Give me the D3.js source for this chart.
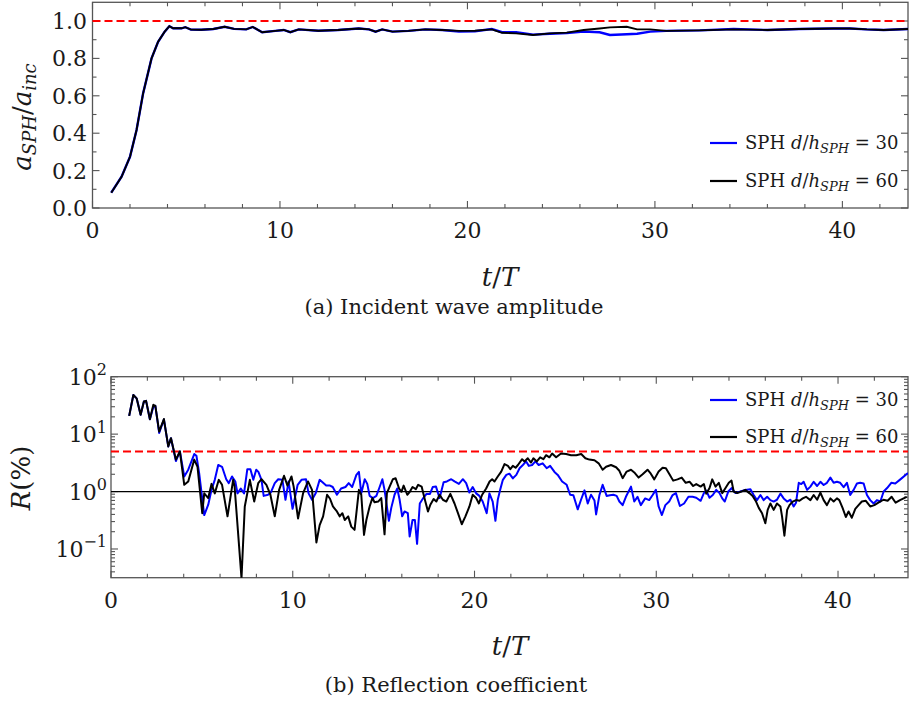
<!DOCTYPE html>
<html><head><meta charset="utf-8">
<script src="https://cdn.jsdelivr.net/npm/d3@7"></script>
<style>
body{margin:0;background:#fff}
</style>
</head><body>
<svg id="c" width="909" height="705"></svg>
<script>
// ---------- Panel (a): incident wave amplitude ----------
const aT = [1.0,1.55,2.0,2.35,2.7,3.15,3.5,3.85,4.1,4.3,4.75,4.95,5.25,5.8,6.45,7.05,7.55,8.2,8.55,9.05,9.75,10.2,10.55,11.0,12.05,13.1,14.2,14.75,15.1,15.45,16.0,16.85,17.75,18.65,19.55,20.4,21.3,21.85,22.6,23.5,24.4,25.3,26.2,27.05,27.6,28.5,29.05,29.75,30.6,32.4,34.2,36.0,37.7,39.5,40.4,41.3,42.2,43.5];
const aBlack = [0.082,0.167,0.274,0.417,0.613,0.80,0.889,0.943,0.972,0.961,0.961,0.967,0.954,0.953,0.957,0.969,0.958,0.955,0.968,0.940,0.947,0.952,0.940,0.955,0.948,0.952,0.960,0.955,0.943,0.955,0.943,0.947,0.955,0.952,0.947,0.948,0.955,0.937,0.934,0.925,0.934,0.938,0.952,0.960,0.966,0.969,0.955,0.955,0.947,0.950,0.955,0.952,0.957,0.960,0.960,0.955,0.952,0.957];
const aBlue  = [0.082,0.167,0.274,0.417,0.613,0.80,0.889,0.943,0.972,0.961,0.961,0.967,0.954,0.953,0.957,0.969,0.958,0.955,0.968,0.940,0.947,0.952,0.940,0.955,0.948,0.952,0.960,0.955,0.943,0.955,0.943,0.947,0.955,0.952,0.944,0.945,0.957,0.940,0.940,0.927,0.932,0.936,0.943,0.940,0.925,0.929,0.932,0.943,0.947,0.950,0.957,0.952,0.957,0.960,0.960,0.955,0.952,0.957];
const aYTicks = [0.0,0.2,0.4,0.6,0.8,1.0];
const xTicks = [0,10,20,30,40];
const aRef = 1.0;

// ---------- Panel (b): reflection coefficient (%) ----------
const bBlackT = [1.0,1.23,1.41,1.63,1.81,1.93,2.14,2.33,2.44,2.65,2.91,3.15,3.3,3.57,3.79,4.03,4.25,4.58,4.76,5.02,5.13,5.35,5.53,5.71,5.93,6.11,6.41,6.72,6.8,7.18,7.36,7.64,7.88,8.1,8.28,8.55,8.77,9.01,9.25,9.52,9.71,9.93,10.05,10.29,10.57,10.84,11.06,11.3,11.48,11.67,11.89,12.05,12.21,12.43,12.58,12.73,12.86,13.05,13.22,13.4,13.64,13.77,13.92,14.05,14.23,14.38,14.5,14.7,14.87,15.05,15.18,15.33,15.51,15.66,15.85,15.98,16.1,16.3,16.44,16.59,16.77,16.9,17.09,17.27,17.44,17.57,17.75,17.9,18.08,18.26,18.45,18.67,18.9,19.09,19.3,19.5,19.72,19.9,20.09,20.24,20.42,20.64,20.83,20.97,21.1,21.28,21.47,21.65,21.84,21.97,22.11,22.26,22.39,22.62,22.75,22.93,23.11,23.24,23.43,23.61,23.79,23.94,24.12,24.27,24.49,24.76,25.04,25.31,25.6,25.87,26.1,26.32,26.6,26.83,27.05,27.24,27.51,27.79,27.97,28.15,28.37,28.61,28.79,29.03,29.25,29.52,29.7,29.89,30.13,30.35,30.53,30.75,30.93,31.17,31.4,31.62,31.84,32.03,32.2,32.44,32.62,32.75,32.93,33.08,33.26,33.44,33.63,33.81,33.99,34.14,34.26,34.45,34.68,34.9,35.12,35.3,35.49,35.64,35.82,36.0,36.13,36.28,36.46,36.64,36.83,36.92,37.05,37.2,37.33,37.51,37.69,37.88,38.06,38.24,38.48,38.66,38.85,39.03,39.21,39.39,39.58,39.76,39.94,40.07,40.25,40.43,40.58,40.76,40.95,41.13,41.31,41.53,41.77,42.0,42.22,42.5,42.73,42.95,43.17,43.41,43.78];
const bBlackR = [20.8,48,42,21.7,37,38,18.2,32.4,31,11.1,18.3,6.1,8.5,3.6,5.0,1.31,1.5,3.6,2.7,0.42,0.93,0.77,1.36,0.93,1.6,1.31,0.37,1.6,1.22,0.031,0.55,1.6,0.67,1.4,1.64,1.31,0.88,0.37,1.07,1.88,1.27,1.83,1.22,0.34,0.94,1.5,1.07,0.13,0.26,0.37,0.88,0.75,0.55,0.45,0.37,0.42,0.32,0.37,0.245,0.215,1.07,0.88,0.176,0.32,0.55,0.77,0.65,0.67,0.77,0.18,0.94,1.22,1.64,1.7,1.13,0.99,1.27,0.88,0.99,1.2,1.1,1.31,1.22,0.72,0.45,0.59,0.74,0.67,0.88,0.72,0.67,0.91,0.62,0.42,0.27,0.37,0.55,0.88,0.77,0.62,0.88,1.13,1.5,1.64,1.5,1.83,2.23,3.0,2.8,2.45,2.8,2.6,2.9,3.66,3.35,3.8,3.2,3.8,3.35,3.95,3.66,4.3,3.95,4.6,3.95,4.6,4.5,4.3,4.3,4.5,3.8,3.6,3.5,3.1,2.4,2.7,2.9,2.65,2.3,1.71,2.23,2.4,2.15,1.75,2.0,2.4,2.05,1.63,2.23,2.6,2.55,1.95,1.55,1.63,1.75,1.42,1.48,1.25,1.35,1.22,1.35,0.92,1.15,1.63,1.22,1.42,0.94,1.15,1.42,1.55,1.0,0.94,1.0,1.07,0.94,0.84,0.67,0.52,0.42,0.28,0.48,0.62,0.48,0.62,0.55,0.37,0.17,0.48,0.58,0.67,0.71,0.69,0.76,0.81,0.71,0.87,0.72,0.96,0.71,0.58,0.76,0.67,0.76,0.71,0.52,0.36,0.45,0.35,0.5,0.58,0.67,0.69,0.55,0.58,0.64,0.72,0.69,0.81,0.64,0.71,0.81];

const bBlueT = [1.0,1.23,1.41,1.63,1.81,1.93,2.14,2.33,2.44,2.65,2.91,3.15,3.3,3.57,3.79,4.03,4.25,4.58,4.7,4.85,5.13,5.35,5.53,5.71,5.9,6.11,6.34,6.48,6.66,6.84,6.96,7.14,7.32,7.5,7.67,7.83,7.99,8.11,8.28,8.4,8.64,8.79,9.01,9.2,9.43,9.6,9.77,9.99,10.27,10.48,10.73,10.87,11.06,11.26,11.48,11.84,12.05,12.2,12.43,12.66,12.9,13.08,13.27,13.5,13.64,13.77,13.96,14.1,14.23,14.41,14.6,14.78,14.93,15.05,15.29,15.42,15.6,15.75,15.88,16.02,16.15,16.33,16.43,16.59,16.72,16.84,16.99,17.18,17.36,17.55,17.7,17.88,18.08,18.3,18.48,18.72,18.9,19.14,19.36,19.54,19.72,19.9,20.09,20.27,20.45,20.67,20.82,21.0,21.15,21.28,21.41,21.56,21.75,21.92,22.11,22.3,22.48,22.66,22.84,22.99,23.17,23.35,23.53,23.75,23.97,24.16,24.4,24.58,24.82,25.07,25.26,25.44,25.68,25.86,26.05,26.23,26.41,26.6,26.69,26.87,27.05,27.27,27.45,27.64,27.82,27.97,28.15,28.33,28.61,28.79,28.97,29.15,29.39,29.61,29.8,29.98,30.13,30.31,30.5,30.71,30.9,31.08,31.3,31.53,31.77,32.0,32.2,32.44,32.62,32.75,32.93,33.11,33.3,33.48,33.63,33.77,33.96,34.14,34.36,34.63,34.9,35.18,35.36,35.54,35.73,35.91,36.1,36.28,36.46,36.64,36.83,37.01,37.2,37.38,37.56,37.69,37.84,37.98,38.11,38.3,38.48,38.66,38.85,39.03,39.21,39.39,39.58,39.76,39.94,40.12,40.31,40.49,40.67,40.86,41.04,41.22,41.41,41.59,41.77,41.96,42.14,42.33,42.51,42.7,42.93,43.15,43.43,43.85];
const bBlueR = [20.8,48,42,21.7,37,38,18.2,30,31,10.5,18,6.1,8.5,3.4,5.0,1.83,2.4,4.5,4.2,2.1,0.39,0.59,1.07,1.6,2.9,2.7,1.64,1.4,1.83,1.5,0.93,1.13,0.93,2.45,2.45,1.6,2.4,2.2,1.6,0.84,0.88,0.96,1.4,1.64,1.6,0.72,1.5,0.5,1.31,1.6,1.64,0.93,0.72,0.93,1.6,1.27,1.27,1.2,0.88,1.13,1.2,1.4,1.2,1.95,2.2,0.93,1.64,1.36,0.84,0.77,0.84,1.2,1.64,1.07,0.31,0.52,0.88,1.13,0.72,0.37,0.45,0.42,0.165,0.32,0.32,0.123,0.62,0.77,0.91,0.91,1.2,1.22,0.77,1.45,1.5,1.64,1.5,1.36,1.64,1.4,0.96,1.2,0.93,0.84,0.67,0.42,0.93,0.67,0.31,0.72,1.07,1.6,1.95,2.05,1.7,1.95,2.55,2.9,3.35,2.8,2.9,3.35,2.9,3.1,2.55,2.8,2.2,1.95,1.5,1.31,0.88,0.86,0.49,0.72,1.05,0.62,0.88,0.7,0.4,0.86,1.31,0.84,0.86,0.88,0.84,0.67,0.58,0.81,1.22,0.67,0.81,0.58,0.76,0.71,0.87,1.07,0.55,0.39,0.58,0.67,0.87,0.94,0.56,0.62,0.81,0.81,0.78,0.69,0.94,1.04,0.78,0.87,1.07,0.94,0.76,0.67,1.0,1.15,0.94,1.0,1.07,1.1,0.87,0.71,0.87,0.71,0.81,0.71,0.67,0.72,0.92,0.76,0.67,0.72,0.55,0.64,1.42,1.35,1.48,1.07,1.22,1.48,1.25,1.48,1.3,1.42,1.75,1.42,1.48,1.42,1.19,1.42,0.87,1.07,1.38,1.42,1.38,0.87,0.71,0.62,0.71,0.67,1.0,1.15,1.42,1.38,1.63,2.1];
const bYTickExp = [-1,0,1,2];
const bRef = 5;
const bUnit = 1;

const legendLabels = ["30","60"];
const colors = {blue:"#0000ff", black:"#000000", red:"#ff0000", axis:"#555555"};
const FONT = "DejaVu Serif";

const svg = d3.select("#c");

function txt(sel){ return sel.append("text").attr("font-family",FONT).attr("fill","#1a1a1a"); }

function mathLabel(sel, parts){
  parts.forEach(p=>{
    const t = sel.append("tspan").text(p.t);
    if(p.i) t.attr("font-style","italic");
    if(p.sub){ t.attr("font-size", p.sub).attr("dy", p.sub*0.3); }
    if(p.back){ t.attr("dy", -p.back*0.3); }
    if(p.sup){ t.attr("font-size", p.sup).attr("dy", -p.sup*0.6); }
  });
  return sel;
}

function frame(g, x, y, yTicksMajor, yTicksMinor, xMinor){
  const [x0,x1] = x.range(), [y0,y1] = y.range();
  g.append("rect").attr("x",x0).attr("y",y1).attr("width",x1-x0).attr("height",y0-y1)
    .attr("fill","none").attr("stroke",colors.axis).attr("stroke-width",1.3);
  const tk = g.append("g").attr("stroke",colors.axis).attr("stroke-width",1.1);
  xTicks.forEach(v=>{ const px=x(v);
    tk.append("line").attr("x1",px).attr("x2",px).attr("y1",y0).attr("y2",y0-7);
    tk.append("line").attr("x1",px).attr("x2",px).attr("y1",y1).attr("y2",y1+7);});
  xMinor.forEach(v=>{ const px=x(v);
    tk.append("line").attr("x1",px).attr("x2",px).attr("y1",y0).attr("y2",y0-4);
    tk.append("line").attr("x1",px).attr("x2",px).attr("y1",y1).attr("y2",y1+4);});
  yTicksMajor.forEach(v=>{ const py=y(v);
    tk.append("line").attr("x1",x0).attr("x2",x0+7).attr("y1",py).attr("y2",py);
    tk.append("line").attr("x1",x1).attr("x2",x1-7).attr("y1",py).attr("y2",py);});
  yTicksMinor.forEach(v=>{ const py=y(v);
    tk.append("line").attr("x1",x0).attr("x2",x0+4).attr("y1",py).attr("y2",py);
    tk.append("line").attr("x1",x1).attr("x2",x1-4).attr("y1",py).attr("y2",py);});
  xTicks.forEach(v=>{
    txt(g).attr("x",x(v)).attr("y",y0+30).attr("text-anchor","middle")
      .attr("font-size",22).text(v);
  });
}

function legend(g, x0, ys){
  [colors.blue, colors.black].forEach((c,i)=>{
    g.append("line").attr("x1",x0).attr("x2",x0+27).attr("y1",ys[i]).attr("y2",ys[i])
      .attr("stroke",c).attr("stroke-width",2.2);
    mathLabel(txt(g).attr("x",x0+35).attr("y",ys[i]+6).attr("font-size",18),
      [{t:"SPH "},{t:"d",i:1},{t:"/"},{t:"h",i:1},{t:"SPH",i:1,sub:13},{t:" = "+legendLabels[i],back:13}]);
  });
}

// ---- panel a
{
  const x = d3.scaleLinear().domain([0,43.5]).range([92.5,908]);
  const y = d3.scaleLinear().domain([0,1.1]).range([208,2.3]);
  const g = svg.append("g");
  const minorX = d3.range(2,44,2).filter(v=>v%10!==0);
  const minorY = d3.range(0.1,1.1,0.2).map(v=>+v.toFixed(1));
  frame(g, x, y, aYTicks, minorY, minorX);
  aYTicks.forEach(v=>txt(g).attr("x",87).attr("y",y(v)+8).attr("text-anchor","end")
    .attr("font-size",22).text(v.toFixed(1)));
  g.append("line").attr("x1",x.range()[0]).attr("x2",x.range()[1]).attr("y1",y(aRef)).attr("y2",y(aRef))
    .attr("stroke",colors.red).attr("stroke-width",2).attr("stroke-dasharray","8,4");
  const line = d3.line().x(d=>x(d[0])).y(d=>y(d[1]));
  g.append("path").datum(aT.map((t,i)=>[t,aBlue[i]])).attr("d",line).attr("fill","none")
    .attr("stroke",colors.blue).attr("stroke-width",2.4);
  g.append("path").datum(aT.map((t,i)=>[t,aBlack[i]])).attr("d",line).attr("fill","none")
    .attr("stroke",colors.black).attr("stroke-width",1.9);
  legend(g, 710, [143, 181]);
  mathLabel(txt(g).attr("transform","translate(31,117) rotate(-90)").attr("text-anchor","middle").attr("font-size",26),
    [{t:"a",i:1},{t:"SPH",i:1,sub:18},{t:"/",back:18},{t:"a",i:1},{t:"inc",i:1,sub:18}]);
  mathLabel(txt(g).attr("x",500).attr("y",286).attr("text-anchor","middle").attr("font-size",26),
    [{t:"t",i:1},{t:"/"},{t:"T",i:1}]);
  txt(g).attr("x",454).attr("y",314).attr("text-anchor","middle").attr("font-size",21)
    .text("(a) Incident wave amplitude");
}

// ---- panel b
{
  const x = d3.scaleLinear().domain([0,43.85]).range([111,908]);
  const y = d3.scaleLog().domain([Math.pow(10,-1.5),100]).range([577.7,376.7]);
  const g = svg.append("g");
  const minorX = d3.range(2,44,2).filter(v=>v%10!==0);
  const majY = bYTickExp.map(e=>Math.pow(10,e));
  const minY = [];
  [-2,-1,0,1].forEach(e=>{ for(let k=2;k<=9;k++){ const v=k*Math.pow(10,e); if(v>=Math.pow(10,-1.5)&&v<=100) minY.push(v);} });
  frame(g, x, y, majY, minY, minorX);
  bYTickExp.forEach(e=>{
    mathLabel(txt(g).attr("x",107).attr("y",y(Math.pow(10,e))+8).attr("text-anchor","end").attr("font-size",22),
      [{t:"10"},{t:String(e).replace("-","\u2212"),sup:16}]);
  });
  g.append("line").attr("x1",x.range()[0]).attr("x2",x.range()[1]).attr("y1",y(bUnit)).attr("y2",y(bUnit))
    .attr("stroke","#000").attr("stroke-width",1.2);
  g.append("line").attr("x1",x.range()[0]).attr("x2",x.range()[1]).attr("y1",y(bRef)).attr("y2",y(bRef))
    .attr("stroke",colors.red).attr("stroke-width",2).attr("stroke-dasharray","8,4");
  g.append("clipPath").attr("id","cb").append("rect")
    .attr("x",111).attr("y",376.7).attr("width",797).attr("height",201);
  const line = d3.line().x(d=>x(d[0])).y(d=>y(d[1]));
  g.append("path").datum(bBlueT.map((t,i)=>[t,bBlueR[i]])).attr("d",line).attr("fill","none")
    .attr("clip-path","url(#cb)").attr("stroke",colors.blue).attr("stroke-width",2).attr("stroke-linejoin","round");
  g.append("path").datum(bBlackT.map((t,i)=>[t,bBlackR[i]])).attr("d",line).attr("fill","none")
    .attr("clip-path","url(#cb)").attr("stroke",colors.black).attr("stroke-width",2).attr("stroke-linejoin","round");
  legend(g, 710, [400, 437]);
  mathLabel(txt(g).attr("transform","translate(30,478) rotate(-90)").attr("text-anchor","middle").attr("font-size",26),
    [{t:"R",i:1},{t:"(%)"}]);
  mathLabel(txt(g).attr("x",510).attr("y",655).attr("text-anchor","middle").attr("font-size",26),
    [{t:"t",i:1},{t:"/"},{t:"T",i:1}]);
  txt(g).attr("x",456).attr("y",692).attr("text-anchor","middle").attr("font-size",21)
    .text("(b) Reflection coefficient");
}
</script>
</body></html>
